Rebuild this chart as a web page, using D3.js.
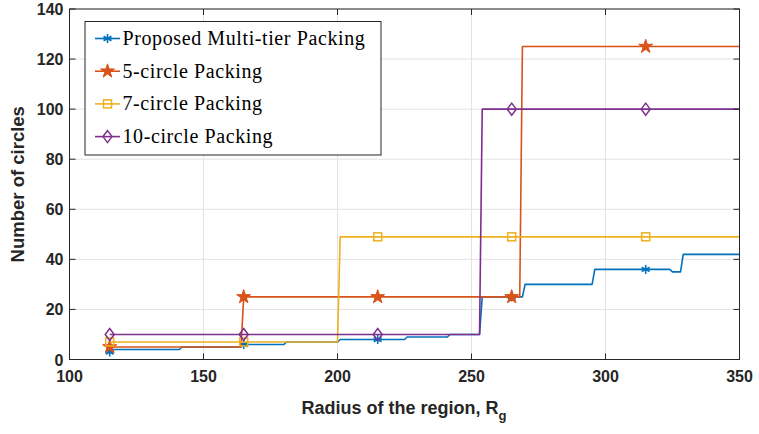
<!DOCTYPE html>
<html><head><meta charset="utf-8">
<script src="https://cdn.jsdelivr.net/npm/d3@7"></script>
<style>body{margin:0;background:#fff}svg{display:block}</style>
</head><body>
<svg id="c" width="759" height="434"></svg>
<script>
const xTicks = [100,150,200,250,300,350];
const yTicks = [0,20,40,60,80,100,120,140];
const seriesNames = ["Proposed Multi-tier Packing","5-circle Packing","7-circle Packing","10-circle Packing"];
const seriesColors = ["#0072BD","#D95319","#EDB120","#7E2F8E"];
const markerX = [115,165,215,265,315];
// step-curve vertices: [radius, circles]
const proposedPts = [[115,3],[116,4],[141,4],[142,5],[164,5],[165,6],[180,6],[181,7],[200,7],[201,8],[225,8],[226,9],[241,9],[242,10],[253,10],[254,25],[269,25],[270,30],[295,30],[296,36],[324,36],[325,35],[328,35],[329,42],[350,42]];
const fivePts = [[115,5],[164,5],[165,25],[268,25],[269,125],[350,125]];
const sevenPts = [[115,7],[200,7],[201,49],[350,49]];
const tenPts = [[115,10],[253,10],[254,100],[350,100]];
const allPts = [proposedPts, fivePts, sevenPts, tenPts];
const markerTypes = ["asterisk","star","square","diamond"];

const svg = d3.select("#c");
const L = 69.5, R = 739.5, T = 9, B = 359.5;
const x = d3.scaleLinear().domain([100,350]).range([L,R]);
const y = d3.scaleLinear().domain([0,140]).range([B,T]);
const axisColor = "#262626";

// grid
const g = svg.append("g");
g.selectAll("line.gx").data(xTicks).join("line")
  .attr("x1",d=>x(d)).attr("x2",d=>x(d)).attr("y1",T).attr("y2",B)
  .attr("stroke","#e3e3e3").attr("stroke-width",1);
g.selectAll("line.gy").data(yTicks).join("line")
  .attr("y1",d=>y(d)).attr("y2",d=>y(d)).attr("x1",L).attr("x2",R)
  .attr("stroke","#e3e3e3").attr("stroke-width",1);

function valAt(pts, xv){
  for (let i=pts.length-1;i>=0;i--) if (pts[i][0] <= xv) {
    if (pts[i][0]===xv || i===pts.length-1) return pts[i][1];
    const a=pts[i], b=pts[i+1];
    return a[1] + (b[1]-a[1])*(xv-a[0])/(b[0]-a[0]);
  }
  return pts[0][1];
}

const line = d3.line().x(d=>x(d[0])).y(d=>y(d[1]));
const plot = svg.append("g");

function drawMarker(sel, type, color, cx, cy){
  const s = sel.append("g").attr("transform",`translate(${cx},${cy})`);
  if (type==="asterisk"){
    const r=4.5;
    [0,60,120].forEach(a=>{
      const rad=(a+30)*Math.PI/180;
      s.append("line").attr("x1",-r*Math.cos(rad)).attr("y1",-r*Math.sin(rad))
       .attr("x2",r*Math.cos(rad)).attr("y2",r*Math.sin(rad))
       .attr("stroke",color).attr("stroke-width",1.6);
    });
    s.append("line").attr("x1",-r).attr("y1",0).attr("x2",r).attr("y2",0).attr("stroke",color).attr("stroke-width",1.6);
  } else if (type==="star"){
    s.append("path").attr("d",d3.symbol(d3.symbolStar,60)())
     .attr("fill",color).attr("stroke",color).attr("stroke-width",1);
  } else if (type==="square"){
    s.append("rect").attr("x",-4).attr("y",-4).attr("width",8).attr("height",8)
     .attr("fill","none").attr("stroke",color).attr("stroke-width",1.5);
  } else if (type==="diamond"){
    s.append("path").attr("d","M0,-6L4.5,0L0,6L-4.5,0Z")
     .attr("fill","none").attr("stroke",color).attr("stroke-width",1.5);
  }
}

allPts.forEach((pts,i)=>{
  plot.append("path").datum(pts).attr("d",line).attr("fill","none")
    .attr("stroke",seriesColors[i]).attr("stroke-width",1.6).attr("stroke-linejoin","round");
  markerX.forEach(mx=>drawMarker(plot, markerTypes[i], seriesColors[i], x(mx), y(valAt(pts,mx))));
});

// axes box
const ax = svg.append("g");
ax.append("rect").attr("x",L).attr("y",T).attr("width",R-L).attr("height",B-T)
  .attr("fill","none").attr("stroke",axisColor).attr("stroke-width",1);
const tl = 6;
xTicks.forEach(v=>{
  ax.append("line").attr("x1",x(v)).attr("x2",x(v)).attr("y1",B).attr("y2",B-tl).attr("stroke",axisColor);
  ax.append("line").attr("x1",x(v)).attr("x2",x(v)).attr("y1",T).attr("y2",T+tl).attr("stroke",axisColor);
  ax.append("text").attr("x",x(v)).attr("y",B+22).attr("text-anchor","middle")
    .attr("font-family","Liberation Sans, Arial, sans-serif").attr("font-weight","bold")
    .attr("font-size",16).attr("fill",axisColor).text(v);
});
yTicks.forEach(v=>{
  ax.append("line").attr("y1",y(v)).attr("y2",y(v)).attr("x1",L).attr("x2",L+tl).attr("stroke",axisColor);
  ax.append("line").attr("y1",y(v)).attr("y2",y(v)).attr("x1",R).attr("x2",R-tl).attr("stroke",axisColor);
  ax.append("text").attr("x",L-6).attr("y",y(v)+6).attr("text-anchor","end")
    .attr("font-family","Liberation Sans, Arial, sans-serif").attr("font-weight","bold")
    .attr("font-size",16).attr("fill",axisColor).text(v);
});

// axis labels
const xl = svg.append("text").attr("x",404).attr("y",414).attr("text-anchor","middle")
  .attr("font-family","Liberation Sans, Arial, sans-serif").attr("font-weight","bold")
  .attr("font-size",18).attr("fill",axisColor);
xl.append("tspan").text("Radius of the region, R");
xl.append("tspan").attr("font-size",13).attr("dy",6).text("g");
svg.append("text").attr("transform",`translate(24,${(T+B)/2}) rotate(-90)`).attr("text-anchor","middle")
  .attr("font-family","Liberation Sans, Arial, sans-serif").attr("font-weight","bold")
  .attr("font-size",18.5).attr("fill",axisColor).text("Number of circles");

// legend
const lg = svg.append("g");
lg.append("rect").attr("x",85).attr("y",21.5).attr("width",296).attr("height",133.5)
  .attr("fill","#fff").attr("stroke",axisColor).attr("stroke-width",1);
seriesNames.forEach((n,i)=>{
  const yy = 38.5 + i*32.7;
  lg.append("line").attr("x1",95).attr("x2",120).attr("y1",yy).attr("y2",yy)
    .attr("stroke",seriesColors[i]).attr("stroke-width",1.6);
  drawMarker(lg, markerTypes[i], seriesColors[i], 107.5, yy);
  lg.append("text").attr("x",122.5).attr("y",yy+6.5).attr("font-family","Liberation Serif, DejaVu Serif, serif")
    .attr("font-size",20).attr("letter-spacing",0.6).attr("fill","#000").text(n);
});
</script>
</body></html>
